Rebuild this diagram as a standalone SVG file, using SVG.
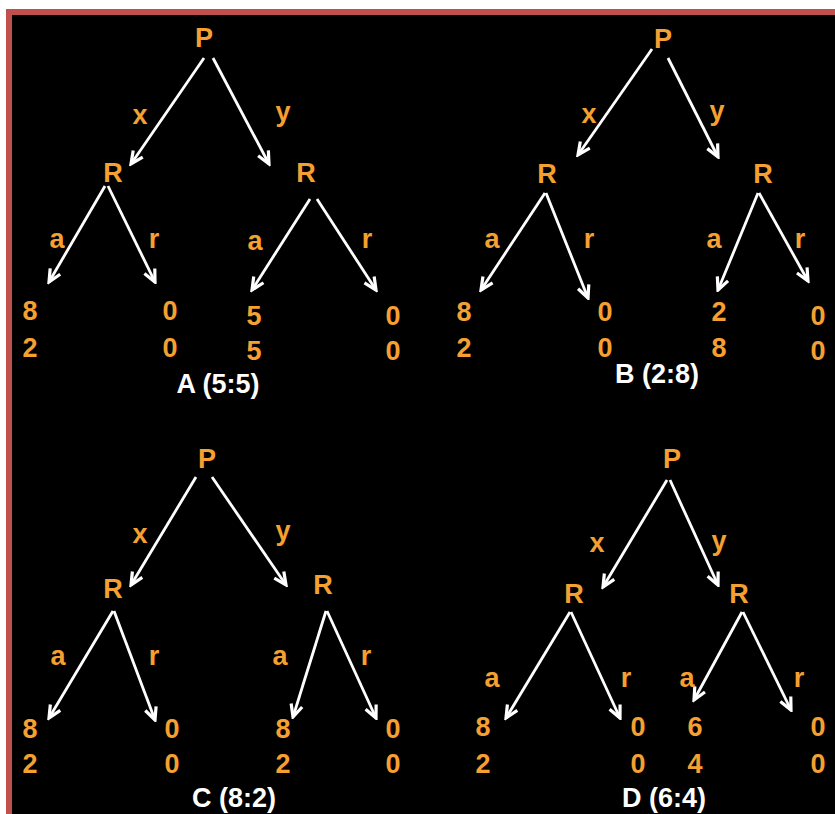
<svg xmlns="http://www.w3.org/2000/svg" width="835" height="814" viewBox="0 0 835 814">
<style>
.n{font-family:"Liberation Sans",Arial,sans-serif;font-weight:bold;font-size:27px;fill:#F5A030;text-anchor:middle}
.t{font-family:"Liberation Sans",Arial,sans-serif;font-weight:bold;font-size:27px;fill:#FFFFFF;text-anchor:middle}
.e{stroke:#FFFFFF;stroke-width:2.8;fill:none;marker-end:url(#ah)}
</style>
<defs>
<marker id="ah" markerUnits="userSpaceOnUse" markerWidth="16" markerHeight="16" refX="11" refY="5.5" orient="auto" viewBox="0 0 13 11">
<path d="M1,0.8 L11,5.5 L1,10.2" fill="none" stroke="#FFFFFF" stroke-width="2.6" stroke-linejoin="miter"/>
</marker>
</defs>
<rect x="0" y="0" width="835" height="814" fill="#FFFFFF"/>
<rect x="6" y="9" width="835" height="815" fill="#C0504D"/>
<rect x="12" y="15" width="823" height="799" fill="#000000"/>

<g id="connectors">
<!-- A -->
<line class="e" x1="204" y1="58" x2="131" y2="164"/>
<line class="e" x1="213" y1="58" x2="269" y2="164"/>
<line class="e" x1="105" y1="186" x2="49" y2="282"/>
<line class="e" x1="108" y1="186" x2="155" y2="282"/>
<line class="e" x1="310" y1="199" x2="252" y2="290"/>
<line class="e" x1="317" y1="199" x2="376" y2="290"/>
<!-- B -->
<line class="e" x1="652" y1="49" x2="578" y2="155"/>
<line class="e" x1="668" y1="58" x2="718" y2="157"/>
<line class="e" x1="545" y1="193" x2="481" y2="290"/>
<line class="e" x1="546" y1="193" x2="588" y2="298"/>
<line class="e" x1="758" y1="193" x2="718" y2="290"/>
<line class="e" x1="759" y1="193" x2="808" y2="281"/>
<!-- C -->
<line class="e" x1="196" y1="477" x2="131" y2="585"/>
<line class="e" x1="212" y1="477" x2="286" y2="585"/>
<line class="e" x1="113" y1="611" x2="49" y2="718"/>
<line class="e" x1="114" y1="611" x2="155" y2="720"/>
<line class="e" x1="326" y1="611" x2="293" y2="717"/>
<line class="e" x1="327" y1="611" x2="376" y2="718"/>
<!-- D -->
<line class="e" x1="667" y1="480" x2="603" y2="587"/>
<line class="e" x1="670" y1="480" x2="718" y2="585"/>
<line class="e" x1="570" y1="612" x2="506" y2="718"/>
<line class="e" x1="571" y1="612" x2="620" y2="718"/>
<line class="e" x1="742" y1="612" x2="694" y2="700"/>
<line class="e" x1="743" y1="612" x2="791" y2="710"/>
</g>

<g id="treeA">
<text class="n" x="204" y="47">P</text>
<text class="n" x="140" y="124">x</text>
<text class="n" x="283" y="121">y</text>
<text class="n" x="113" y="182">R</text>
<text class="n" x="306" y="182">R</text>
<text class="n" x="57" y="248">a</text>
<text class="n" x="154" y="248">r</text>
<text class="n" x="255" y="250">a</text>
<text class="n" x="367" y="248">r</text>
<text class="n" x="30" y="320">8</text>
<text class="n" x="30" y="357">2</text>
<text class="n" x="170" y="320">0</text>
<text class="n" x="170" y="357">0</text>
<text class="n" x="254" y="325">5</text>
<text class="n" x="254" y="360">5</text>
<text class="n" x="393" y="325">0</text>
<text class="n" x="393" y="360">0</text>
<text class="t" x="218" y="393">A (5:5)</text>
</g>

<g id="treeB">
<text class="n" x="663" y="48">P</text>
<text class="n" x="589" y="123">x</text>
<text class="n" x="717" y="120">y</text>
<text class="n" x="547" y="183">R</text>
<text class="n" x="763" y="183">R</text>
<text class="n" x="492" y="248">a</text>
<text class="n" x="589" y="248">r</text>
<text class="n" x="714" y="248">a</text>
<text class="n" x="800" y="248">r</text>
<text class="n" x="464" y="321">8</text>
<text class="n" x="464" y="357">2</text>
<text class="n" x="605" y="321">0</text>
<text class="n" x="605" y="357">0</text>
<text class="n" x="719" y="321">2</text>
<text class="n" x="719" y="357">8</text>
<text class="n" x="818" y="325">0</text>
<text class="n" x="818" y="360">0</text>
<text class="t" x="657" y="383">B (2:8)</text>
</g>

<g id="treeC">
<text class="n" x="207" y="468">P</text>
<text class="n" x="140" y="543">x</text>
<text class="n" x="283" y="540">y</text>
<text class="n" x="113" y="598">R</text>
<text class="n" x="323" y="594">R</text>
<text class="n" x="58" y="665">a</text>
<text class="n" x="154" y="665">r</text>
<text class="n" x="280" y="665">a</text>
<text class="n" x="366" y="665">r</text>
<text class="n" x="30" y="738">8</text>
<text class="n" x="30" y="773">2</text>
<text class="n" x="172" y="738">0</text>
<text class="n" x="172" y="773">0</text>
<text class="n" x="283" y="738">8</text>
<text class="n" x="283" y="773">2</text>
<text class="n" x="393" y="738">0</text>
<text class="n" x="393" y="773">0</text>
<text class="t" x="234" y="807">C (8:2)</text>
</g>

<g id="treeD">
<text class="n" x="672" y="468">P</text>
<text class="n" x="597" y="552">x</text>
<text class="n" x="719" y="550">y</text>
<text class="n" x="574" y="603">R</text>
<text class="n" x="739" y="603">R</text>
<text class="n" x="492" y="687">a</text>
<text class="n" x="626" y="687">r</text>
<text class="n" x="687" y="687">a</text>
<text class="n" x="799" y="687">r</text>
<text class="n" x="483" y="736">8</text>
<text class="n" x="483" y="773">2</text>
<text class="n" x="638" y="736">0</text>
<text class="n" x="638" y="773">0</text>
<text class="n" x="695" y="736">6</text>
<text class="n" x="695" y="773">4</text>
<text class="n" x="818" y="736">0</text>
<text class="n" x="818" y="773">0</text>
<text class="t" x="664" y="807">D (6:4)</text>
</g>
</svg>
